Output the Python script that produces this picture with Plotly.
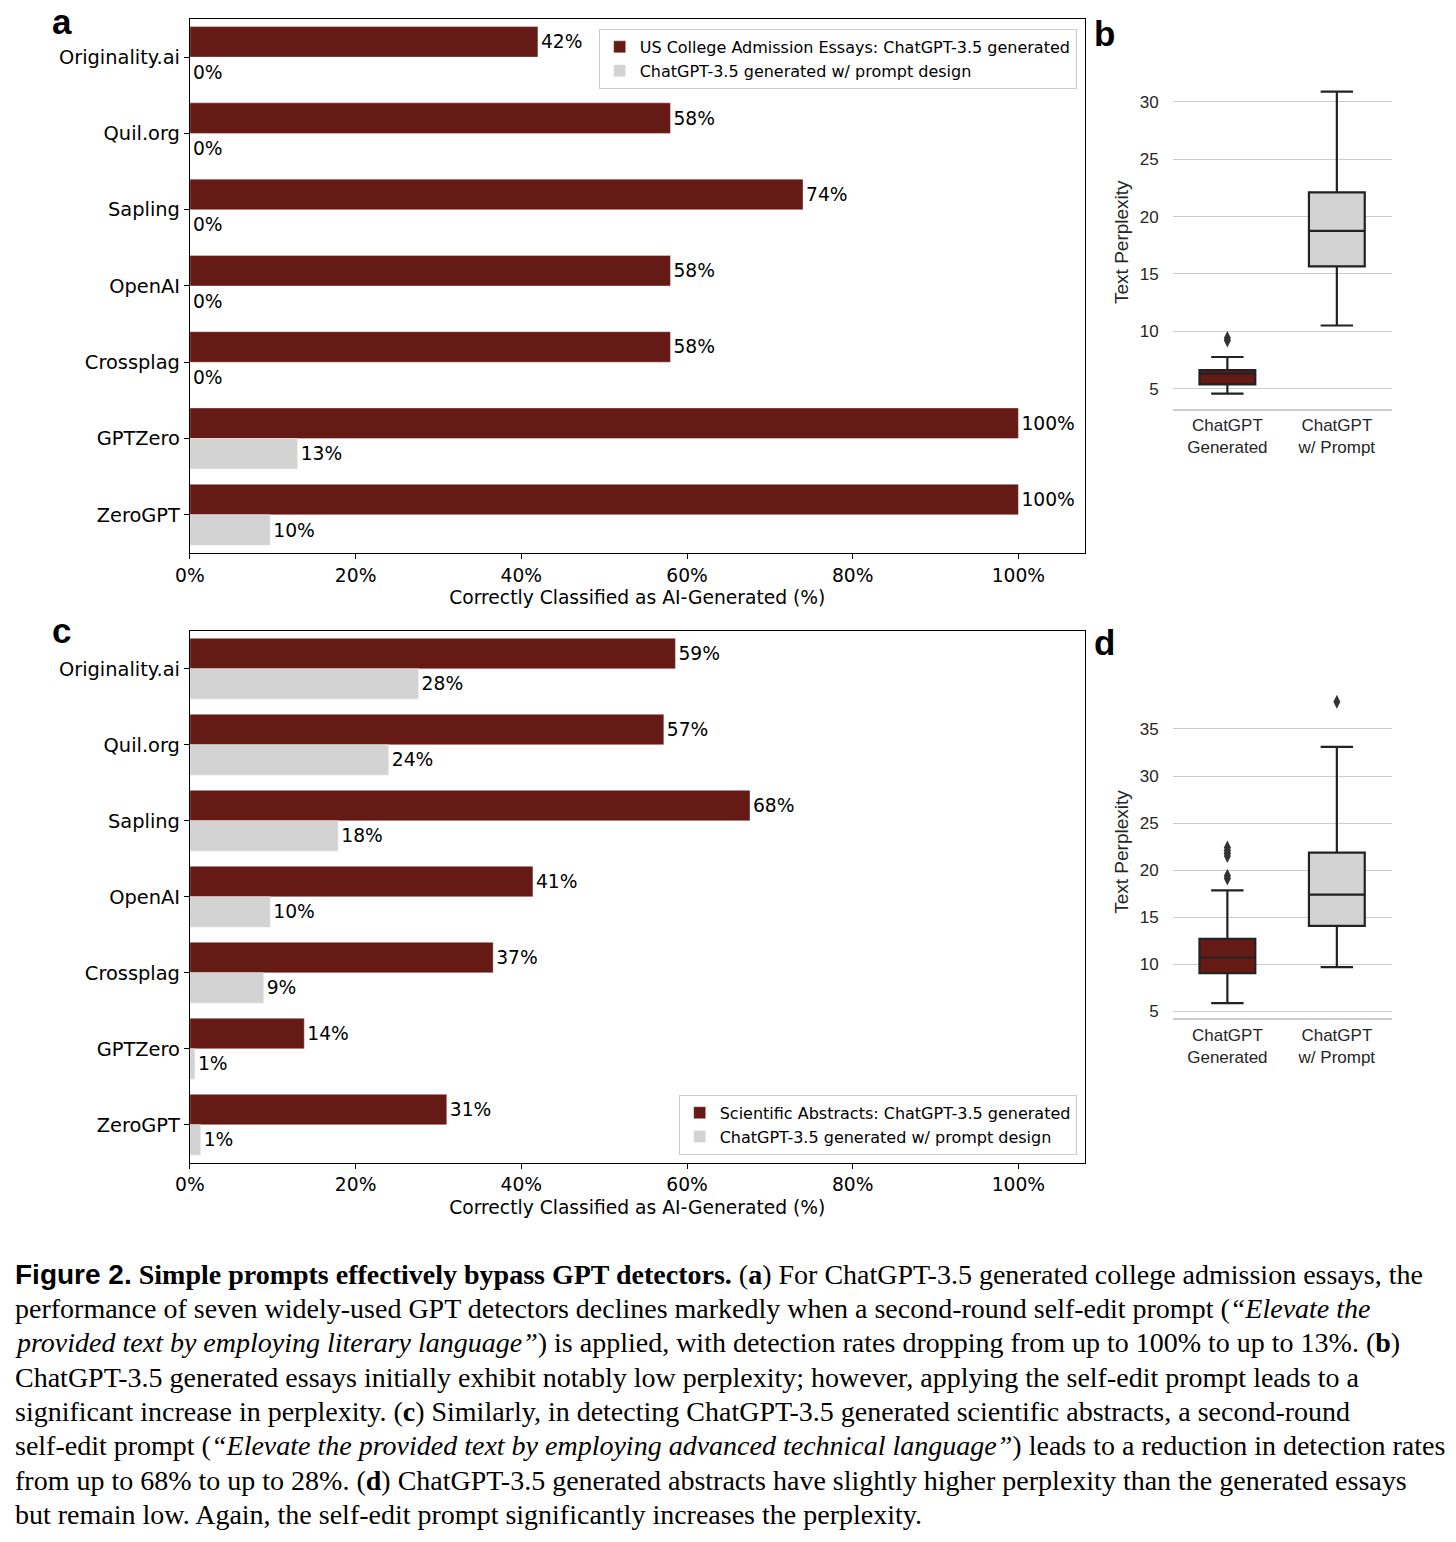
import plotly.graph_objects as go

W, H = 1456, 1542
# measured page->photo horizontal mapping of the capture (photo_x = OX + SX * page_x)
OX, SX = 15.0, 0.99

# ---------------- data ----------------
detectors = ["Originality.ai", "Quil.org", "Sapling", "OpenAI", "Crossplag", "GPTZero", "ZeroGPT"]

essay_generated = [42, 58, 74, 58, 58, 100, 100]
essay_prompt = [0, 0, 0, 0, 0, 13, 9.7]

abstract_generated = [58.6, 57.2, 67.6, 41.4, 36.6, 13.8, 31.0]
abstract_prompt = [27.6, 24.0, 17.9, 9.7, 8.9, 0.6, 1.3]

box_cats = ["ChatGPT<br>Generated", "ChatGPT<br>w/ Prompt"]

# box stats: [lowerfence, q1, median, q3, upperfence]
essay_gen_stats = [4.56, 5.37, 6.3, 6.6, 7.75]
essay_prompt_stats = [10.5, 15.65, 18.75, 22.1, 30.9]
essay_gen_outliers = [9.2, 9.4]
essay_prompt_outliers = []

abstract_gen_stats = [5.88, 9.06, 10.72, 12.7, 17.86]
abstract_prompt_stats = [9.7, 14.08, 17.4, 21.86, 33.1]
abstract_gen_outliers = [19.1, 19.4, 21.5, 21.8, 22.1, 22.4]
abstract_prompt_outliers = [37.9]

x_tickvals = [0, 20, 40, 60, 80, 100]
x_ticklabels = ["0%", "20%", "40%", "60%", "80%", "100%"]
box_yticks_b = [5, 10, 15, 20, 25, 30]
box_yticks_d = [5, 10, 15, 20, 25, 30, 35]

legend_a = ["US College Admission Essays: ChatGPT-3.5 generated", "ChatGPT-3.5 generated w/ prompt design"]
legend_c = ["Scientific Abstracts: ChatGPT-3.5 generated", "ChatGPT-3.5 generated w/ prompt design"]

caption_lines = [
    '<span style="font-family:Liberation Sans"><b>Figure 2.</b></span> <b>Simple prompts effectively bypass GPT detectors.</b> (<b>a</b>) For ChatGPT-3.5 generated college admission essays, the',
    'performance of seven widely-used GPT detectors declines markedly when a second-round self-edit prompt (<i>“Elevate the</i>',
    '<i>provided text by employing literary language”</i>) is applied, with detection rates dropping from up to 100% to up to 13%. (<b>b</b>)',
    'ChatGPT-3.5 generated essays initially exhibit notably low perplexity; however, applying the self-edit prompt leads to a',
    'significant increase in perplexity. (<b>c</b>) Similarly, in detecting ChatGPT-3.5 generated scientific abstracts, a second-round',
    'self-edit prompt (<i>“Elevate the provided text by employing advanced technical language”</i>) leads to a reduction in detection rates',
    'from up to 68% to up to 28%. (<b>d</b>) ChatGPT-3.5 generated abstracts have slightly higher perplexity than the generated essays',
    'but remain low. Again, the self-edit prompt significantly increases the perplexity.',
]

# ---------------- styles ----------------
DARK = "#661a16"
LIGHT = "#d3d3d3"
BOXLINE = "#222222"
BAR_FONT = "DejaVu Sans"
BOX_FONT = "Liberation Sans"


def px(x):
    return max((x - OX) / SX, 0) / W


def py(y):
    return 1 - y / H


fig = go.Figure()


def add_bars(gen, prm, names, xa, ya, legend):
    for vals, color, name in ((gen, DARK, names[0]), (prm, LIGHT, names[1])):
        fig.add_trace(go.Bar(
            y=detectors, x=vals, orientation="h", name=name,
            marker=dict(color=color, line=dict(color="rgba(255,255,255,0.6)", width=0.6)),
            texttemplate="%{x:.0f}%", textposition="outside",
            textfont=dict(family=BAR_FONT, size=18.7, color="black"),
            cliponaxis=False, constraintext="none",
            xaxis=xa, yaxis=ya, legend=legend, hoverinfo="skip",
        ))


add_bars(essay_generated, essay_prompt, legend_a, "x", "y", "legend")
add_bars(abstract_generated, abstract_prompt, legend_c, "x3", "y3", "legend2")


def add_box(cat, stats, color, xa, ya):
    lo, q1, med, q3, hi = stats
    fig.add_trace(go.Box(
        x=[cat], lowerfence=[lo], q1=[q1], median=[med], q3=[q3], upperfence=[hi],
        fillcolor=color, line=dict(color=BOXLINE, width=2.2),
        width=0.51, whiskerwidth=0.58, showlegend=False,
        boxpoints=False, xaxis=xa, yaxis=ya, hoverinfo="skip",
    ))


def add_outliers(cat, vals, xa, ya):
    if not vals:
        return
    fig.add_trace(go.Scatter(
        x=[cat] * len(vals), y=vals, mode="markers",
        marker=dict(symbol="diamond-tall", size=10, color="#333333"),
        showlegend=False, xaxis=xa, yaxis=ya, hoverinfo="skip",
    ))


add_box(box_cats[0], essay_gen_stats, DARK, "x2", "y2")
add_box(box_cats[1], essay_prompt_stats, LIGHT, "x2", "y2")
add_outliers(box_cats[0], essay_gen_outliers, "x2", "y2")
add_outliers(box_cats[1], essay_prompt_outliers, "x2", "y2")

add_box(box_cats[0], abstract_gen_stats, DARK, "x4", "y4")
add_box(box_cats[1], abstract_prompt_stats, LIGHT, "x4", "y4")
add_outliers(box_cats[0], abstract_gen_outliers, "x4", "y4")
add_outliers(box_cats[1], abstract_prompt_outliers, "x4", "y4")

# ---------------- axes ----------------
bar_x = dict(
    range=[0, 108], tickmode="array", tickvals=x_tickvals, ticktext=x_ticklabels,
    ticks="outside", ticklen=5,
    tickwidth=1.2, tickcolor="black", showline=True, linecolor="black", linewidth=1.3,
    mirror=True, showgrid=False, zeroline=False,
    tickfont=dict(family=BAR_FONT, size=18.7, color="black"),
    title=dict(text="Correctly Classified as AI-Generated (%)",
               font=dict(family=BAR_FONT, size=18.7, color="black"), standoff=6),
)
bar_y = dict(
    type="category", categoryorder="array", categoryarray=detectors, autorange="reversed",
    ticks="outside", ticklen=5, tickwidth=1.2, tickcolor="black",
    showline=True, linecolor="black", linewidth=1.3, mirror=True, showgrid=False,
    tickfont=dict(family=BAR_FONT, size=19.4, color="black"),
)

box_x = dict(
    type="category", categoryorder="array", categoryarray=box_cats, range=[-0.5, 1.5],
    showline=True, linecolor="#cccccc", linewidth=1.6, ticks="", showgrid=False,
    tickfont=dict(family=BOX_FONT, size=17, color="#262626"),
)


def box_y(rng, ticks):
    return dict(
        range=rng, tickvals=ticks, showline=False, ticks="", showgrid=True,
        gridcolor="#cccccc", gridwidth=1.4, zeroline=False, ticklabelstandoff=13,
        tickfont=dict(family=BOX_FONT, size=17, color="#262626"),
        title=dict(text="Text Perplexity", font=dict(family=BOX_FONT, size=19, color="#262626"),
                   standoff=6),
    )


legend_style = dict(bordercolor="#cccccc", borderwidth=1, bgcolor="white",
                    font=dict(family=BAR_FONT, size=16, color="black"),
                    tracegroupgap=0, itemwidth=30)

fig.update_layout(
    width=W, height=H, autosize=False, margin=dict(l=0, r=0, t=0, b=0),
    paper_bgcolor="white", plot_bgcolor="white",
    barmode="group", bargap=0.2, bargroupgap=0,
    boxmode="overlay",
    xaxis=dict(domain=[px(190), px(1085)], anchor="y", **bar_x),
    yaxis=dict(domain=[py(554), py(19)], anchor="x", **bar_y),
    xaxis3=dict(domain=[px(190), px(1085)], anchor="y3", **bar_x),
    yaxis3=dict(domain=[py(1165), py(632)], anchor="x3", **bar_y),
    xaxis2=dict(domain=[px(1173), px(1392)], anchor="y2", **box_x),
    yaxis2=dict(domain=[py(409.3), py(76)], anchor="x2", **box_y([3.26, 32.27], box_yticks_b)),
    xaxis4=dict(domain=[px(1173), px(1392)], anchor="y4", **box_x),
    yaxis4=dict(domain=[py(1020.3), py(687)], anchor="x4", **box_y([4.26, 39.6], box_yticks_d)),
    legend=dict(x=px(1077), y=py(29), xanchor="right", yanchor="top", **legend_style),
    legend2=dict(x=px(1077), y=py(1157), xanchor="right", yanchor="bottom", **legend_style),
    showlegend=True,
)

# panel letters
fig.add_annotation(x=px(62), y=1, xref="paper", yref="paper", text="<b>a</b>",
                   showarrow=False, xanchor="center", yanchor="top",
                   font=dict(family="Liberation Sans", size=35, color="black"))
for letter, (lx, ly) in {"b": (1105, 34), "c": (62, 632), "d": (1105, 644)}.items():
    fig.add_annotation(x=px(lx), y=py(ly), xref="paper", yref="paper", text=f"<b>{letter}</b>",
                       showarrow=False, xanchor="center", yanchor="middle",
                       font=dict(family="Liberation Sans", size=35, color="black"))

# caption
for i, line in enumerate(caption_lines):
    fig.add_annotation(x=0, y=py(1276.5 + i * 34.45), xref="paper", yref="paper", text=line,
                       showarrow=False, xanchor="left", yanchor="middle", align="left",
                       xshift=-2, font=dict(family="Liberation Serif", size=28, color="black"))

fig.write_html("out.html", config={"displayModeBar": False, "responsive": False},
               post_script="document.body.style.margin='0';document.body.style.overflow='hidden';")
